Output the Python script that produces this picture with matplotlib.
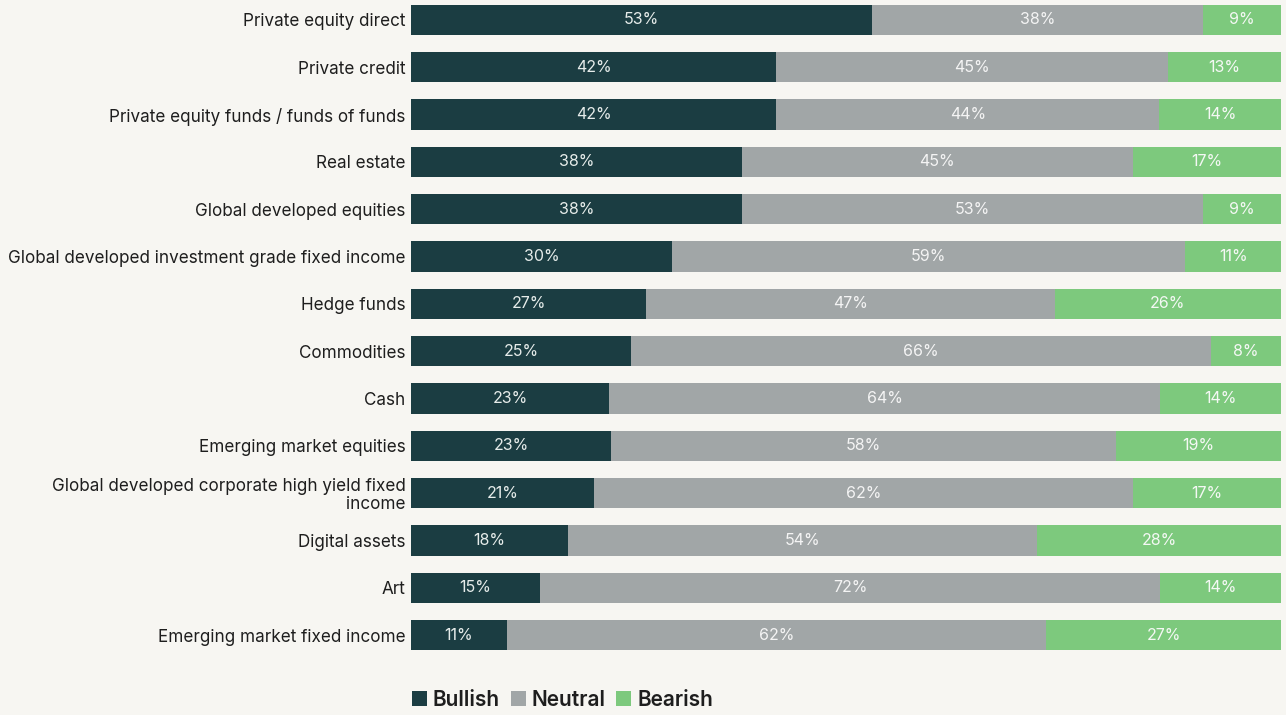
import matplotlib.pyplot as plt
import numpy as np

categories = [
    "Private equity direct",
    "Private credit",
    "Private equity funds / funds of funds",
    "Real estate",
    "Global developed equities",
    "Global developed investment grade fixed income",
    "Hedge funds",
    "Commodities",
    "Cash",
    "Emerging market equities",
    "Global developed corporate high yield fixed\nincome",
    "Digital assets",
    "Art",
    "Emerging market fixed income",
]
bullish = [53, 42, 42, 38, 38, 30, 27, 25, 23, 23, 21, 18, 15, 11]
neutral = [38, 45, 44, 45, 53, 59, 47, 66, 64, 58, 62, 54, 72, 62]
bearish = [9, 13, 14, 17, 9, 11, 26, 8, 14, 19, 17, 28, 14, 27]
series_names = ["Bullish", "Neutral", "Bearish"]
colors = ["#1b3d42", "#a1a6a7", "#7dc97d"]
label_colors = ["#e6ecea", "#f4f4f4", "#f4f8f4"]

plt.rcParams['font.family'] = ['Inter', 'DejaVu Sans']
bg = "#f7f6f2"

fig = plt.figure(figsize=(12.86, 7.15), dpi=100, facecolor=bg)
ax = fig.add_axes([411 / 1286, 55 / 715, 870 / 1286, 660 / 715])
ax.set_facecolor(bg)

data = np.array([bullish, neutral, bearish], dtype=float)
totals = data.sum(axis=0)
shares = data / totals * 100
y = np.arange(len(categories))
left = np.zeros(len(categories))
for i, name in enumerate(series_names):
    ax.barh(y, shares[i], left=left, height=0.64, color=colors[i],
            label=name, edgecolor="none")
    for yy, l, w, v in zip(y, left, shares[i], data[i]):
        ax.text(l + w / 2, yy, f"{int(v)}%", ha="center", va="center",
                color=label_colors[i], fontsize=11.5)
    left += shares[i]

ax.set_xlim(0, 100)
ax.set_ylim(13.528, -0.4227)
ax.set_yticks(y)
ax.set_yticklabels(categories, fontsize=12.3, color="#1e1e1e", linespacing=1.05)
ax.tick_params(axis="y", length=0, pad=4)
ax.set_xticks([])
for s in ax.spines.values():
    s.set_visible(False)

fig.legend(loc="center left", bbox_to_anchor=(393 / 1286, 15 / 715), ncol=3,
           frameon=False, handlelength=0.72, handleheight=0.72, handletextpad=0.3,
           columnspacing=0.5, prop={"size": 15, "weight": "semibold"},
           labelcolor="#1e1e1e")

fig.savefig("out.png", dpi=100, facecolor=bg)
